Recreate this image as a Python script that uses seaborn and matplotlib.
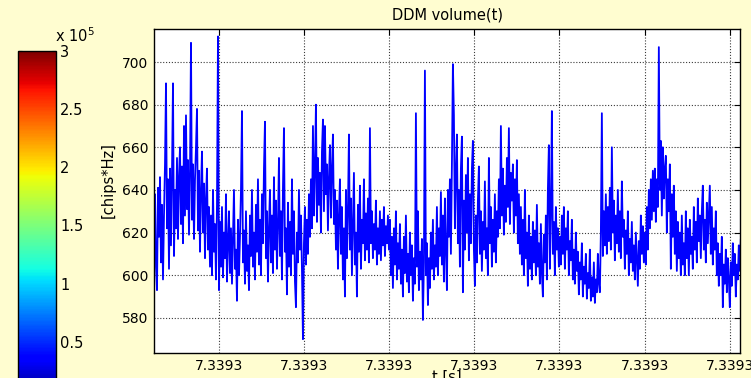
import numpy as np
import pandas as pd
import matplotlib
matplotlib.use("Agg")
import matplotlib.pyplot as plt
import seaborn as sns
from matplotlib.cm import ScalarMappable
from matplotlib.colors import Normalize

# ---- data: DDM volume samples (chips*Hz), one block per tick interval ----
volume_a = [612, 638, 604, 593, 641, 618, 646, 606, 633, 598, 628, 652, 690, 622, 645, 603,
            650, 614, 648, 690, 609, 640, 622, 655, 617, 646, 660, 624, 651, 615, 670, 628,
            675, 631, 654, 619, 648, 709, 626, 652, 617, 645, 660, 678, 621, 649, 611, 640,
            658, 620, 643, 608, 636, 650, 612, 632, 604, 628, 600, 640, 611, 624, 598, 633,
            712]
volume_b = [593, 625, 604, 632, 599, 620, 608, 638, 597, 615, 630, 601, 622, 596, 619, 640,
            603, 612, 588, 626, 600, 618, 640, 677, 606, 621, 596, 630, 602, 614, 593, 628,
            609, 640, 604, 620, 598, 633, 611, 645, 605, 626, 600, 638, 615, 650, 672, 608,
            630, 597, 622, 640, 606, 628, 601, 646, 612, 635, 603, 624, 655, 609, 630, 598,
            641, 669, 611, 622, 591, 634, 604, 625, 600, 645, 610, 630, 597, 585, 620, 606,
            640, 612, 628, 603, 570]
volume_c = [615, 632, 605, 626, 610, 638, 618, 645, 622, 670, 628, 650, 680, 625, 655, 633,
            648, 620, 658, 673, 630, 670, 638, 652, 621, 646, 661, 627, 650, 666, 624, 640,
            612, 635, 603, 628, 645, 610, 632, 598, 622, 590, 640, 608, 630, 666, 612, 636,
            600, 625, 648, 605, 620, 590, 633, 611, 642, 603, 626, 615, 645, 607, 629, 612,
            636, 606, 669, 615, 630, 608, 624, 612, 635, 605, 622, 610, 630, 607, 626, 614,
            632, 609, 623, 615, 628]
volume_d = [612, 626, 600, 618, 594, 622, 605, 630, 598, 615, 603, 624, 596, 612, 590, 618,
            601, 628, 597, 610, 592, 620, 600, 614, 588, 608, 596, 676, 604, 630, 593, 611,
            598, 617, 579, 606, 696, 600, 615, 586, 608, 594, 620, 603, 626, 598, 614, 604,
            632, 600, 622, 609, 639, 605, 628, 597, 636, 612, 593, 640, 618, 645, 610, 652,
            699, 675, 622, 648, 666, 615, 640, 604, 650, 665, 592, 635, 612, 647, 620, 655,
            607, 638, 615, 650, 663]
volume_e = [612, 595, 628, 606, 635, 651, 610, 630, 602, 625, 612, 644, 608, 622, 600, 655,
            615, 632, 604, 626, 611, 638, 606, 630, 618, 645, 622, 670, 628, 650, 619, 642,
            625, 655, 632, 669, 624, 648, 635, 652, 620, 645, 628, 654, 615, 638, 610, 632,
            605, 626, 600, 640, 608, 620, 595, 628, 603, 618, 598, 625, 606, 621, 600, 633,
            604, 615, 596, 624, 601, 590, 619, 606, 628, 598, 640, 661, 603, 630, 677, 610,
            625, 600, 632, 612, 622, 604]
volume_f = [618, 605, 628, 610, 632, 603, 622, 612, 630, 600, 616, 607, 626, 598, 612, 596,
            620, 602, 611, 591, 606, 598, 615, 590, 604, 596, 610, 589, 601, 594, 612, 588,
            599, 590, 606, 587, 598, 592, 610, 596, 592, 620, 676, 609, 630, 614, 638, 610,
            632, 616, 641, 612, 660, 620, 635, 607, 628, 615, 640, 611, 630, 608, 644, 618,
            626, 603, 621, 610, 630, 600, 617, 606, 625, 602, 614, 598, 620, 608, 595, 616,
            603, 628, 610, 623, 606]
volume_g = [620, 605, 632, 612, 640, 622, 645, 626, 649, 630, 650, 625, 645, 632, 707, 640,
            663, 628, 660, 636, 650, 656, 620, 645, 630, 652, 603, 638, 618, 642, 610, 630,
            602, 625, 608, 620, 600, 628, 605, 615, 600, 630, 608, 622, 600, 626, 610, 618,
            603, 632, 612, 625, 606, 636, 616, 628, 608, 630, 642, 612, 626, 606, 634, 615,
            628, 642, 610, 632, 605, 622, 612, 630, 600, 615, 595, 610, 600, 618, 585, 605,
            596, 612, 592, 608, 598, 585, 606, 595, 615, 600, 610, 590, 605, 598, 614, 602,
            617]

volume = np.array(volume_a + volume_b + volume_c + volume_d + volume_e + volume_f + volume_g,
                  dtype=float)

t_start = 7.3392524          # s
sample_period = 1.1737e-7    # s
t = t_start + sample_period * np.arange(volume.size)

x_ticks = [7.33926, 7.33927, 7.33928, 7.33929, 7.33930, 7.33931, 7.33932]
y_ticks = [580, 600, 620, 640, 660, 680, 700]
cbar_ticks = [0.5e5, 1.0e5, 1.5e5, 2.0e5, 2.5e5, 3.0e5]
cbar_labels = ["0.5", "1", "1.5", "2", "2.5", "3"]

df = pd.DataFrame({"t": t, "volume": volume})

# ---- style ----
BG = "#FFFDD0"
sns.set_theme(style="white")
plt.rcParams["font.family"] = ["DejaVu Sans"]
plt.rcParams["axes.linewidth"] = 1.0

fig = plt.figure(figsize=(7.51, 3.78), dpi=100, facecolor=BG)
W, H = 751.0, 378.0

def box(x0, y0, x1, y1):
    return [x0 / W, 1 - y1 / H, (x1 - x0) / W, (y1 - y0) / H]

ax = fig.add_axes(box(154, 29, 740, 353))
cax = fig.add_axes(box(18, 51, 56, 400))

# ---- main trace ----
sns.lineplot(data=df, x="t", y="volume", ax=ax, color="#0000FF", linewidth=1.3,
             estimator=None, legend=False)

ax.set_facecolor("white")
ax.set_xlim(7.3392524, 7.3393212)
ax.set_ylim(563.5, 715.5)
ax.set_xticks(x_ticks)
ax.set_xticklabels([f"{v:.4f}" for v in x_ticks])
ax.set_yticks(y_ticks)
ax.set_yticklabels([str(v) for v in y_ticks])
ax.set_xlabel("")
ax.set_ylabel("")
ax.grid(True, color="#3a3a3a", linestyle=(0, (1, 1.6)), linewidth=0.8)
ax.tick_params(direction="in", length=4, width=0.8, top=True, right=True,
               labelsize=10, pad=4, colors="black")
for s in ax.spines.values():
    s.set_color("black")
    s.set_linewidth(1.0)
    s.set_visible(True)

fig.text(447 / W, 1 - 20 / H, "DDM volume(t)", ha="center", va="baseline",
         fontsize=10.5, color="black")
fig.text(108 / W, 1 - 180 / H, "[chips*Hz]", ha="center", va="center",
         rotation=90, fontsize=10.5, color="black")
fig.text(447 / W, 1 - 370 / H, "t [s]", ha="center", va="top",
         fontsize=10.5, color="black")

# ---- colour scale ----
sm = ScalarMappable(norm=Normalize(0, 3e5), cmap="jet")
cb = fig.colorbar(sm, cax=cax)
cb.set_ticks(cbar_ticks)
cb.set_ticklabels(cbar_labels)
cb.outline.set_edgecolor("black")
cb.outline.set_linewidth(1.0)
cax.tick_params(direction="in", length=3, width=0.8, left=True, right=True,
                labelsize=10.5, pad=3, colors="black")
fig.text(55 / W, 1 - 42 / H, r"x 10$^{5}$", ha="left", va="baseline",
         fontsize=10.5, color="black")

fig.savefig("out.png", dpi=100, facecolor=BG)
